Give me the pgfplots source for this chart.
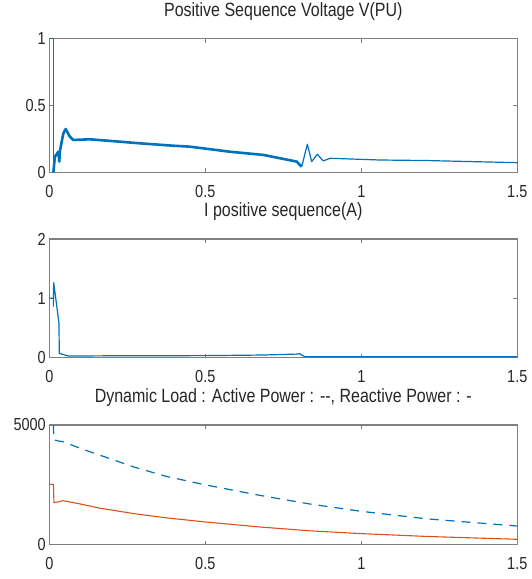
\documentclass[border=0pt]{standalone}
\usepackage{fontspec}
\setmainfont{Liberation Sans}
\usepackage{graphicx}
\usepackage{pgfplots}
\pgfplotsset{compat=1.18}

\definecolor{mblue}{HTML}{0072BD}
\definecolor{morange}{HTML}{D95319}
\definecolor{axgray}{HTML}{808080}
\definecolor{txtgray}{HTML}{262626}

\newcommand{\tall}[1]{\scalebox{1}[1.2]{#1}}

\pgfplotsset{
  mstyle/.style={
    scale only axis, width=468pt, anchor=south west,
    xmin=0, xmax=1.5, xtick={0,0.5,1,1.5},
    axis line style={axgray, line width=1.3pt},
    tick style={axgray, line width=1pt},
    major tick length=4pt,
    tick align=inside,
    /pgf/number format/assume math mode=true,
    /pgf/number format/1000 sep={},
    scaled y ticks=false,
    xticklabel={\tall{\pgfmathprintnumber{\tick}}},
    yticklabel={\tall{\pgfmathprintnumber{\tick}}},
    ticklabel style={font=\fontsize{14.5}{16}\selectfont, text=txtgray},
    xticklabel style={anchor=center, yshift=-19pt},
    title style={font=\fontsize{16}{18}\selectfont, text=txtgray,
      at={(0.5,1)}, anchor=center, yshift=21pt},
  }
}

\begin{document}
\begin{tikzpicture}
\useasboundingbox (0,0) rectangle (531pt,579pt);

% positive sequence voltage
\begin{axis}[mstyle, at={(49.3pt,406.7pt)}, height=133.6pt,
    ymin=0, ymax=1, ytick={0,0.5,1},
    title={\tall{Positive Sequence Voltage V(PU)}}]
\addplot[mblue, line width=1pt] coordinates {(0,1) (0.013,1) (0.013,0)};
\addplot[mblue, line width=2.6pt, line join=round] coordinates {
  (0.013,0) (0.018,0.117) (0.029,0.154) (0.032,0.08) (0.034,0.16)
  (0.045,0.29) (0.0525,0.324) (0.066,0.266) (0.077,0.242) (0.13,0.247)
  (0.184,0.237) (0.29,0.217) (0.397,0.199) (0.45,0.192) (0.579,0.154)
  (0.686,0.13) (0.793,0.08) (0.809,0.042)
};
\addplot[mblue, line width=1.2pt, line join=round] coordinates {
  (0.809,0.042) (0.827,0.21) (0.841,0.08) (0.859,0.135) (0.878,0.085)
  (0.9,0.105) (1.06,0.092) (1.21,0.088) (1.5,0.072)
};
\end{axis}

% positive sequence current
\begin{axis}[mstyle, at={(49.3pt,221.3pt)}, height=118.7pt,
    ymin=0, ymax=2, ytick={0,1,2},
    title={\tall{I positive sequence(A)}}]
\addplot[mblue, line width=1.2pt] coordinates {
  (0,1) (0.013,1) (0.013,0.86) (0.014,1.27) (0.031,0.58) (0.032,0.074)
  (0.05,0.045) (0.061,0.028) (0.2,0.032) (0.5,0.035) (0.686,0.045)
  (0.8,0.062) (0.803,0.07) (0.81,0.04) (0.82,0.017) (1.0,0.015) (1.5,0.015)
};
\end{axis}

% dynamic load
\begin{axis}[mstyle, at={(49.3pt,34.3pt)}, height=119.7pt,
    ymin=0, ymax=5000, ytick={0,5000},
    title={\tall{Dynamic Load : Active Power : -{}-, Reactive Power : -}}]
\addplot[mblue, line width=1.2pt, dash pattern=on 9pt off 7pt] coordinates {
  (0.013,5000) (0.015,4380) (0.03,4330) (0.044,4305) (0.1,4020)
  (0.16,3750) (0.27,3250) (0.376,2850) (0.5,2500) (0.675,2060)
  (0.835,1700) (0.996,1400) (1.21,1080) (1.5,780)
};
\addplot[morange, line width=1.1pt] coordinates {
  (0,2520) (0.013,2520) (0.015,1760) (0.03,1790) (0.044,1838) (0.1,1700)
  (0.16,1530) (0.27,1300) (0.376,1120) (0.5,950) (0.675,740) (0.835,580)
  (0.996,465) (1.21,345) (1.5,225)
};
\end{axis}
\end{tikzpicture}
\end{document}
